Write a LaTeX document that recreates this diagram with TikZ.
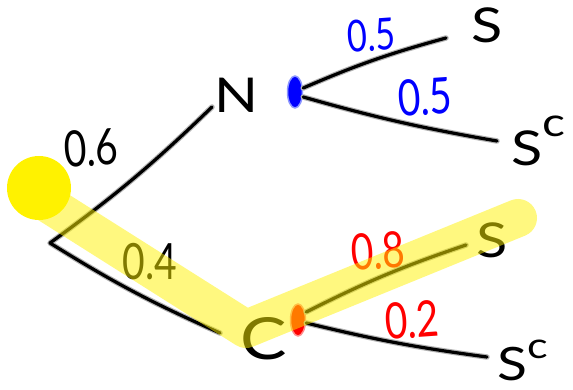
\documentclass[tikz,border=0pt]{standalone}
\usepackage{fontspec}
\setmainfont{Lato}
\newfontfamily\hand[FakeStretch=0.78]{Lato}
\newfontfamily\wide[FakeStretch=1.2]{Lato}
\usetikzlibrary{shapes.geometric}
\definecolor{penblue}{RGB}{0,0,255}
\definecolor{penred}{RGB}{255,0,0}
\definecolor{haloblue}{RGB}{140,150,255}
\definecolor{halored}{RGB}{255,140,140}
\begin{document}
\begin{tikzpicture}[x=1pt,y=-1pt,
  pen/.style={line width=3.2pt, line cap=round, line join=round, black,
    preaction={draw, line width=5.5pt, black!30, line cap=round, line join=round}},
  letter/.style={inner sep=0pt, anchor=base west, font=\wide\fontsize{48}{48}\selectfont},
  bigletter/.style={letter, font=\wide\fontsize{58}{58}\selectfont},
  lbl/.style={inner sep=0pt, font=\hand\fontsize{50}{50}\selectfont},
  inkdot/.style={ellipse, inner sep=0pt, minimum width=15pt, minimum height=32pt, fill=#1},
  band/.style={draw=yellow, draw opacity=0.5, line width=38pt, line cap=round, line join=round}
]
\useasboundingbox (0,0) rectangle (573,390);

% start point
\node[circle, fill=yellow, minimum size=64pt, inner sep=0pt] (root) at (39,188) {};
\coordinate (fork) at (50,243);

% letters
\node[letter] (N) at (214,113) {N};
\node[bigletter] (C) at (240,359) {C};
\node[letter] (S1) at (471,43) {S};
\node[letter] (Sc1) at (511,166) {S\raisebox{29pt}{\fontsize{40}{40}\selectfont c}};
\node[letter] (S2) at (476,258) {S};
\node[letter, font=\wide\fontsize{46}{46}\selectfont] (Sc2) at (497,380) {S\raisebox{22pt}{\fontsize{36}{36}\selectfont c}};

% ink dots
\node[inkdot=penblue, draw=haloblue, line width=1.5pt] (nb) at (295,92) {};
\node[inkdot=penred, draw=halored, line width=1.5pt] (cr) at (298,320) {};

% branches
\draw[pen] ([shift={(-2,-6)}]N.base west) to[bend left=4] (fork)
  to[bend right=4] ([shift={(-20,-26)}]C.base west);
\draw[pen] ([shift={(0,-4)}]nb.east) to[bend left=4] ([shift={(-25,-5)}]S1.base west);
\draw[pen] ([shift={(0,5)}]nb.east) to[bend right=3] ([shift={(-14,-25)}]Sc1.base west);
\draw[pen] ([shift={(0,-8)}]cr.east) to[bend left=4] ([shift={(-10,-13)}]S2.base west);
\draw[pen] ([shift={(0,3)}]cr.east) to[bend right=3] ([shift={(-10,-23)}]Sc2.base west);

% probabilities
\node[lbl, rotate=4] (p06) at (91,148) {0.6};
\node[lbl] (p04) at (150,262) {0.4};
\node[lbl, text=penblue, rotate=4, font=\hand\fontsize{44}{44}\selectfont] (p05a) at (371,35) {0.5};
\node[lbl, text=penblue, rotate=4] (p05b) at (425,97) {0.5};
\node[lbl, text=penred, rotate=4] (p08) at (378,251) {0.8};
\node[lbl, text=penred, rotate=4] (p02) at (412,320) {0.2};

% highlighter band
\coordinate (bandstart) at (42,200);
\coordinate (bandbend) at (246,329);
\coordinate (bandend) at (518,218);
\draw[band] (bandstart) -- (bandbend) -- (bandend);
\end{tikzpicture}
\end{document}
